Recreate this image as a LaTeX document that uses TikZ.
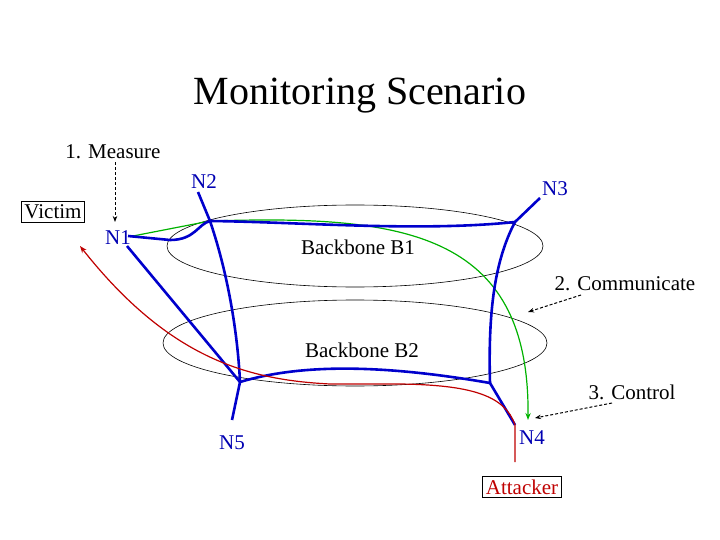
\documentclass[tikz,border=0pt]{standalone}
\usepackage{fontspec}
\setmainfont{Liberation Serif}
\usetikzlibrary{arrows.meta}
\begin{document}
\begin{tikzpicture}[x=1pt,y=-1pt,
  lbl/.style={font=\fontsize{21}{24}\selectfont,inner sep=1pt},
  nl/.style={lbl,text=blue!70!black},
  net/.style={blue!80!black,line width=2.6pt},
  ell/.style={black,line width=0.6pt},
  dsh/.style={densely dashed,line width=1pt,-{Stealth[length=6pt]}}]
\useasboundingbox (0,0) rectangle (720,540);
\node[font=\fontsize{40}{46}\selectfont] (title) at (360,96) {Monitoring Scenario};
\draw[ell] (355,246) ellipse[x radius=188,y radius=41];
\draw[ell] (355,343) ellipse[x radius=192,y radius=43];
\node[lbl] (b1) at (358,247) {Backbone B1};
\node[lbl] (b2) at (362,350) {Backbone B2};
\coordinate (n1a) at (128,236);
\coordinate (n1b) at (127,246);
\coordinate (j2) at (210,221);
\coordinate (j3) at (515,222);
\coordinate (j4) at (490,383);
\coordinate (j5) at (240,382);
\coordinate (n4e) at (515,425);
\coordinate (n3e) at (540,198);
\coordinate (n2e) at (198,192);
\coordinate (n5e) at (232,420);
\node[nl] (N1) at (118,238) {N1};
\node[nl] (N2) at (204,182) {N2};
\node[nl] (N3) at (555,189) {N3};
\node[nl] (N4) at (532,438) {N4};
\node[nl] (N5) at (232,443) {N5};
\node[lbl,draw,line width=0.8pt,inner sep=3pt] (victim) at (53,212) {Victim};
\node[lbl,draw,line width=0.8pt,inner sep=3pt,text=red!75!black] (att) at (522,487) {Attacker};
\node[lbl] (meas) at (113,152) {1. Measure};
\node[lbl] (comm) at (625,284) {2. Communicate};
\node[lbl] (ctrl) at (632,392) {3. Control};
% green
\draw[green!70!black,line width=1.2pt,-{Stealth[length=7pt]}] (133,236) -- (j2) .. controls (400,215) and (530,230) .. (528,420);
% network
\draw[net] (n1a) -- (170,240) .. controls (195,240) and (198,224) .. (j2);
\draw[net] (n1b) -- (j5);
\draw[net] (n2e) -- (j2) .. controls (230,280) and (238,340) .. (j5);
\draw[net] (j2) .. controls (300,222) and (420,232) .. (j3);
\draw[net] (n3e) -- (j3) .. controls (495,260) and (488,310) .. (j4);
\draw[net] (j5) .. controls (300,364) and (380,364) .. (j4);
\draw[net] (j5) -- (n5e);
\draw[net] (j4) -- (n4e);
% red
\draw[red!75!black,line width=1.2pt,-{Stealth[length=7pt]}] (515,462) -- (n4e) .. controls (505,395) and (470,385) .. (400,384) -- (330,384) .. controls (250,380) and (170,360) .. (80,246);
% dashed arrows
\draw[dsh] (meas.south -| 115,0) ++(0,2) -- (115,222);
\draw[dsh] (581,295) -- (528,312);
\draw[dsh] (612,403) -- (535,418);
\end{tikzpicture}
\end{document}
